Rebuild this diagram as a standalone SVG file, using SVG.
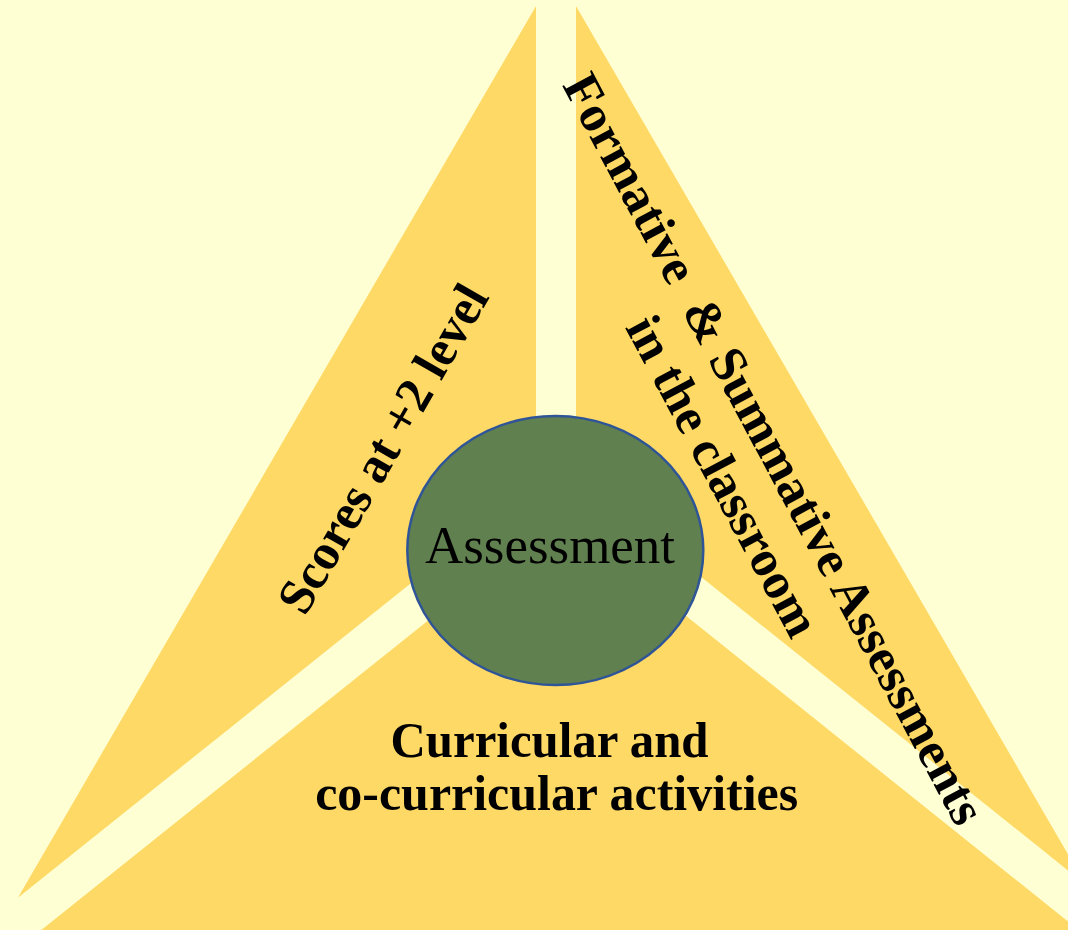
<svg xmlns="http://www.w3.org/2000/svg" width="1068" height="930" viewBox="0 0 1068 930">
  <style>
    .seg { fill: #FFD966; }
    .lbl { font-family: "Liberation Serif", "Times New Roman", serif; font-weight: bold; fill: #000000; }
    .core { font-family: "Liberation Serif", "Times New Roman", serif; fill: #000000; }
  </style>
  <rect x="0" y="0" width="1068" height="930" fill="#FFFFD4"/>
  <g id="left-segment">
    <polygon class="seg" points="536,6 17.9,897.7 536,483.2"/>
    <text class="lbl" x="0" y="0" font-size="51" text-anchor="middle" textLength="370" lengthAdjust="spacingAndGlyphs" transform="translate(397.5,457) rotate(-60)">Scores at +2 level</text>
  </g>
  <g id="right-segment">
    <polygon class="seg" points="576,6 1085.4,884.3 576,476.8"/>
    <g transform="translate(759.4,456.7) rotate(62)">
      <text class="lbl" x="0" y="0" font-size="51" text-anchor="middle" textLength="842" lengthAdjust="spacingAndGlyphs" xml:space="preserve" style="white-space:pre">Formative  &amp; Summative Assessments</text>
      <text class="lbl" x="0" y="58" font-size="51" text-anchor="middle" textLength="355" lengthAdjust="spacingAndGlyphs">in the classroom</text>
    </g>
  </g>
  <g id="bottom-segment">
    <polygon class="seg" points="560,515 -37.4,993 -40,1010 1150,1010 1140.7,979.6"/>
    <text class="lbl" x="549.5" y="756.7" font-size="51" text-anchor="middle" textLength="318" lengthAdjust="spacingAndGlyphs">Curricular and</text>
    <text class="lbl" x="556.7" y="810" font-size="51" text-anchor="middle" textLength="483" lengthAdjust="spacingAndGlyphs">co-curricular activities</text>
  </g>
  <g id="connectors"></g>
  <g id="assessment">
    <ellipse cx="555.3" cy="550.5" rx="148" ry="134.5" fill="#608050" stroke="#2F5597" stroke-width="2.5"/>
    <text class="core" x="550" y="562.7" font-size="53" text-anchor="middle" textLength="250" lengthAdjust="spacingAndGlyphs">Assessment</text>
  </g>
</svg>
